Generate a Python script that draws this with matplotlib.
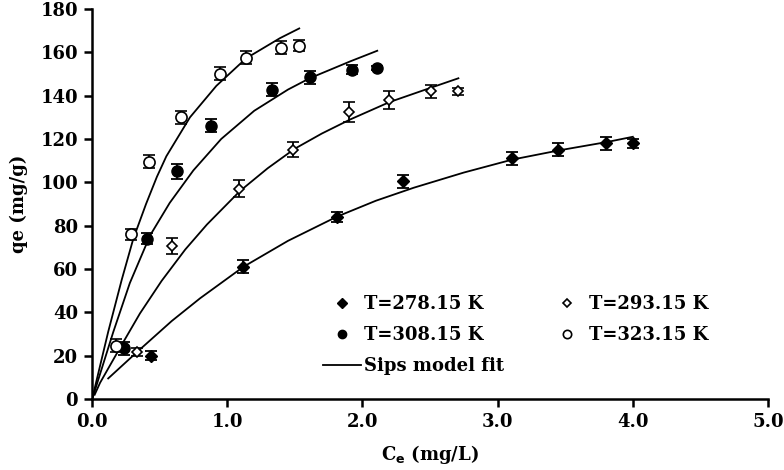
import matplotlib.pyplot as plt
from matplotlib.lines import Line2D

plt.rcParams['font.family'] = ['DejaVu Serif']
plt.rcParams['font.weight'] = 'bold'
plt.rcParams['mathtext.default'] = 'bf'

# 1. measured points (Ce, qe, error)
ce_278 = [0.44, 1.12, 1.81, 2.30, 3.11, 3.45, 3.80, 4.00]
qe_278 = [20, 61, 84, 100.5, 111, 115, 118, 118]
err_278 = [2, 3, 2.5, 3, 3, 3, 3, 2]

ce_293 = [0.33, 0.59, 1.09, 1.49, 1.90, 2.20, 2.51, 2.71]
qe_293 = [21.7, 70.6, 97, 115, 132.5, 138, 142, 142]
err_293 = [2, 3.5, 4, 3.5, 4.5, 4, 3, 1.5]

ce_308 = [0.24, 0.41, 0.63, 0.88, 1.33, 1.61, 1.92, 2.11]
qe_308 = [23.5, 74, 105, 126, 142.6, 148.5, 152, 152.6]
err_308 = [3, 2.5, 3.5, 3, 3, 3, 2, 1]

ce_323 = [0.18, 0.29, 0.42, 0.66, 0.95, 1.14, 1.40, 1.53]
qe_323 = [24.5, 76, 109.5, 130, 150, 157.5, 162, 163]
err_323 = [3, 2.5, 3, 3, 3, 3, 3, 2.5]

# 2. Sips fit curves
fit_x_278 = [0.12, 0.33, 0.59, 0.80, 1.12, 1.45, 1.81, 2.10, 2.38, 2.75, 3.11, 3.46, 3.81, 4.00]
fit_y_278 = [9.5, 21.5, 36, 46.5, 61, 73, 84.1, 91.5, 97.5, 104.5, 110.5, 114.8, 118.6, 121]

fit_x_293 = [0.02, 0.06, 0.22, 0.355, 0.515, 0.69, 0.85, 1.095, 1.30, 1.50, 1.70, 1.91, 2.20, 2.50, 2.71]
fit_y_293 = [2, 7.5, 25, 39.5, 54.5, 69, 80.5, 96, 106.5, 115.5, 122.5, 129, 137, 143.5, 148]

fit_x_308 = [0.005, 0.047, 0.158, 0.28, 0.43, 0.575, 0.75, 0.956, 1.20, 1.45, 1.61, 1.91, 2.11]
fit_y_308 = [0.5, 9, 31, 53.5, 75.5, 90.5, 105.5, 120, 133, 142.8, 148, 155.8, 160.7]

fit_x_323 = [0.005, 0.03, 0.12, 0.22, 0.306, 0.40, 0.48, 0.55, 0.725, 0.92, 1.14, 1.39, 1.533]
fit_y_323 = [1, 7.5, 31, 55, 74, 90, 102.5, 112, 130, 144.5, 157.2, 166.5, 171]

x_ticks = [0, 1, 2, 3, 4, 5]
y_ticks = [0, 20, 40, 60, 80, 100, 120, 140, 160, 180]


# 3. figure
fig = plt.figure(figsize=(7.84, 4.70), dpi=100)
ax = fig.add_axes([0.1173, 0.151, 0.8623, 0.830])

ebar = dict(color='black', ecolor='black', elinewidth=1.3, capsize=4, capthick=1.3, linestyle='none')

ax.errorbar(ce_278, qe_278, yerr=err_278, fmt='D', markersize=6, mfc='black', mec='black', **ebar)
ax.errorbar(ce_293, qe_293, yerr=err_293, fmt='D', markersize=5, mfc='white', mec='black', mew=1.2, **ebar)
ax.errorbar(ce_308, qe_308, yerr=err_308, fmt='o', markersize=8, mfc='black', mec='black', **ebar)
ax.errorbar(ce_323, qe_323, yerr=err_323, fmt='o', markersize=8, mfc='white', mec='black', mew=1.2, **ebar)

for fx, fy in [(fit_x_278, fit_y_278), (fit_x_293, fit_y_293),
               (fit_x_308, fit_y_308), (fit_x_323, fit_y_323)]:
    ax.plot(fx, fy, color='black', lw=1.3, solid_joinstyle='round')

ax.set_xlim(0, 5)
ax.set_ylim(0, 180)
ax.set_xticks(x_ticks)
ax.set_xticklabels([f'{v:.1f}' for v in x_ticks])
ax.set_yticks(y_ticks)
ax.tick_params(direction='out', length=6, width=1.8, labelsize=13, pad=4)

for side in ['top', 'right']:
    ax.spines[side].set_visible(False)
for side in ['left', 'bottom']:
    ax.spines[side].set_linewidth(1.8)

ax.set_xlabel(r'C$_\mathbf{e}$ (mg/L)', fontsize=13, fontweight='bold', labelpad=9)
ax.set_ylabel('qe (mg/g)', fontsize=13, fontweight='bold', labelpad=9)

# legend: column 1 = 278, 308, fit ; column 2 = 293, 323
lh278 = Line2D([], [], marker='D', ls='none', color='black', markersize=5)
lh293 = Line2D([], [], marker='D', ls='none', mfc='white', mec='black', mew=1.2, markersize=4.5)
lh308 = Line2D([], [], marker='o', ls='none', color='black', markersize=6)
lh323 = Line2D([], [], marker='o', ls='none', mfc='white', mec='black', mew=1.2, markersize=6)
lfit = Line2D([], [], color='black', lw=1.3)

ax.legend([lh278, lh308, lfit, lh293, lh323],
          ['T=278.15 K', 'T=308.15 K', 'Sips model fit', 'T=293.15 K', 'T=323.15 K'],
          ncol=2, frameon=False, fontsize=13, loc='lower left',
          bbox_to_anchor=(0.3174, 0.02), columnspacing=2.4, handlelength=2.1,
          handletextpad=0.2, labelspacing=0.72)

fig.savefig('out.png', dpi=100)
